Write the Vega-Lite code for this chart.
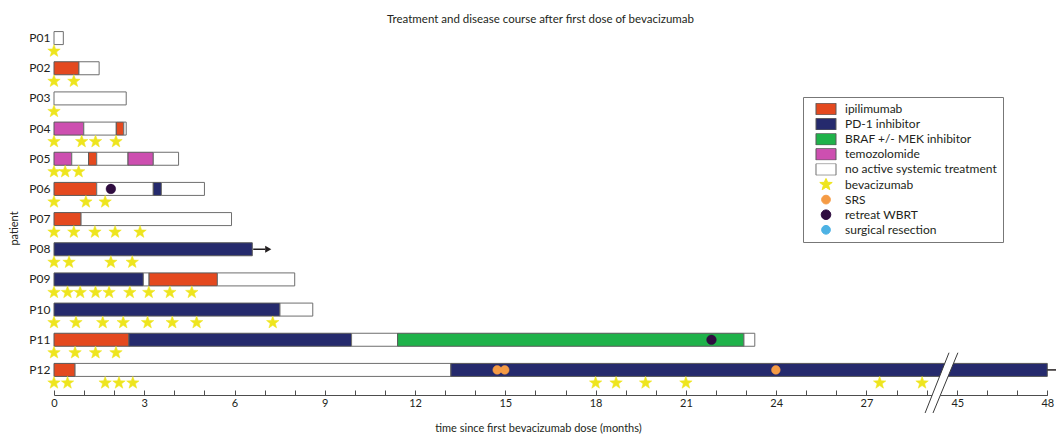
{
  "$schema": "https://vega.github.io/schema/vega-lite/v6.json",
  "autosize": "none",
  "width": 993,
  "height": 362,
  "padding": {"left": 54, "top": 23, "right": 9, "bottom": 52},
  "background": "white",
  "title": {
    "text": "Treatment and disease course after first dose of bevacizumab",
    "font": "Lato",
    "fontSize": 11.5,
    "fontWeight": "normal",
    "color": "#231f20",
    "anchor": "middle",
    "frame": "group",
    "baseline": "alphabetic",
    "offset": 3,
    "dx": -10,
    "dy": 14
  },
  "datasets": {
    "segments": [
      {"patient": "P01", "start": 0, "end": 0.31, "category": "no active systemic treatment"},
      {"patient": "P02", "start": 0, "end": 0.83, "category": "ipilimumab"},
      {"patient": "P02", "start": 0.83, "end": 1.5, "category": "no active systemic treatment"},
      {"patient": "P03", "start": 0, "end": 2.4, "category": "no active systemic treatment"},
      {"patient": "P04", "start": 0, "end": 0.99, "category": "temozolomide"},
      {"patient": "P04", "start": 0.99, "end": 2.07, "category": "no active systemic treatment"},
      {"patient": "P04", "start": 2.07, "end": 2.32, "category": "ipilimumab"},
      {"patient": "P04", "start": 2.32, "end": 2.4, "category": "no active systemic treatment"},
      {"patient": "P05", "start": 0, "end": 0.59, "category": "temozolomide"},
      {"patient": "P05", "start": 0.59, "end": 1.15, "category": "no active systemic treatment"},
      {"patient": "P05", "start": 1.15, "end": 1.42, "category": "ipilimumab"},
      {"patient": "P05", "start": 1.42, "end": 2.46, "category": "no active systemic treatment"},
      {"patient": "P05", "start": 2.46, "end": 3.3, "category": "temozolomide"},
      {"patient": "P05", "start": 3.3, "end": 4.14, "category": "no active systemic treatment"},
      {"patient": "P06", "start": 0, "end": 1.42, "category": "ipilimumab"},
      {"patient": "P06", "start": 1.42, "end": 3.3, "category": "no active systemic treatment"},
      {"patient": "P06", "start": 3.3, "end": 3.57, "category": "PD-1 inhibitor"},
      {"patient": "P06", "start": 3.57, "end": 5.0, "category": "no active systemic treatment"},
      {"patient": "P07", "start": 0, "end": 0.9, "category": "ipilimumab"},
      {"patient": "P07", "start": 0.9, "end": 5.9, "category": "no active systemic treatment"},
      {"patient": "P08", "start": 0, "end": 6.59, "category": "PD-1 inhibitor"},
      {"patient": "P09", "start": 0, "end": 2.97, "category": "PD-1 inhibitor"},
      {"patient": "P09", "start": 2.97, "end": 3.16, "category": "no active systemic treatment"},
      {"patient": "P09", "start": 3.16, "end": 5.43, "category": "ipilimumab"},
      {"patient": "P09", "start": 5.43, "end": 8.0, "category": "no active systemic treatment"},
      {"patient": "P10", "start": 0, "end": 7.51, "category": "PD-1 inhibitor"},
      {"patient": "P10", "start": 7.51, "end": 8.6, "category": "no active systemic treatment"},
      {"patient": "P11", "start": 0, "end": 2.49, "category": "ipilimumab"},
      {"patient": "P11", "start": 2.49, "end": 9.89, "category": "PD-1 inhibitor"},
      {"patient": "P11", "start": 9.89, "end": 11.42, "category": "no active systemic treatment"},
      {"patient": "P11", "start": 11.42, "end": 22.93, "category": "BRAF +/- MEK inhibitor"},
      {"patient": "P11", "start": 22.93, "end": 23.29, "category": "no active systemic treatment"},
      {"patient": "P12", "start": 0, "end": 0.7, "category": "ipilimumab"},
      {"patient": "P12", "start": 0.7, "end": 13.19, "category": "no active systemic treatment"},
      {"patient": "P12", "start": 13.19, "end": 48, "category": "PD-1 inhibitor"}
    ],
    "doses": [
      {"patient": "P01", "time": 0, "category": "bevacizumab"},
      {"patient": "P02", "time": 0, "category": "bevacizumab"},
      {"patient": "P02", "time": 0.66, "category": "bevacizumab"},
      {"patient": "P03", "time": 0, "category": "bevacizumab"},
      {"patient": "P04", "time": 0, "category": "bevacizumab"},
      {"patient": "P04", "time": 0.92, "category": "bevacizumab"},
      {"patient": "P04", "time": 1.38, "category": "bevacizumab"},
      {"patient": "P04", "time": 2.06, "category": "bevacizumab"},
      {"patient": "P05", "time": 0, "category": "bevacizumab"},
      {"patient": "P05", "time": 0.37, "category": "bevacizumab"},
      {"patient": "P05", "time": 0.82, "category": "bevacizumab"},
      {"patient": "P06", "time": 0, "category": "bevacizumab"},
      {"patient": "P06", "time": 1.06, "category": "bevacizumab"},
      {"patient": "P06", "time": 1.7, "category": "bevacizumab"},
      {"patient": "P07", "time": 0, "category": "bevacizumab"},
      {"patient": "P07", "time": 0.66, "category": "bevacizumab"},
      {"patient": "P07", "time": 1.36, "category": "bevacizumab"},
      {"patient": "P07", "time": 2.03, "category": "bevacizumab"},
      {"patient": "P07", "time": 2.86, "category": "bevacizumab"},
      {"patient": "P08", "time": 0, "category": "bevacizumab"},
      {"patient": "P08", "time": 0.5, "category": "bevacizumab"},
      {"patient": "P08", "time": 1.89, "category": "bevacizumab"},
      {"patient": "P08", "time": 2.6, "category": "bevacizumab"},
      {"patient": "P09", "time": 0, "category": "bevacizumab"},
      {"patient": "P09", "time": 0.45, "category": "bevacizumab"},
      {"patient": "P09", "time": 0.87, "category": "bevacizumab"},
      {"patient": "P09", "time": 1.38, "category": "bevacizumab"},
      {"patient": "P09", "time": 1.83, "category": "bevacizumab"},
      {"patient": "P09", "time": 2.52, "category": "bevacizumab"},
      {"patient": "P09", "time": 3.15, "category": "bevacizumab"},
      {"patient": "P09", "time": 3.85, "category": "bevacizumab"},
      {"patient": "P09", "time": 4.58, "category": "bevacizumab"},
      {"patient": "P10", "time": 0, "category": "bevacizumab"},
      {"patient": "P10", "time": 0.73, "category": "bevacizumab"},
      {"patient": "P10", "time": 1.62, "category": "bevacizumab"},
      {"patient": "P10", "time": 2.3, "category": "bevacizumab"},
      {"patient": "P10", "time": 3.11, "category": "bevacizumab"},
      {"patient": "P10", "time": 3.93, "category": "bevacizumab"},
      {"patient": "P10", "time": 4.74, "category": "bevacizumab"},
      {"patient": "P10", "time": 7.27, "category": "bevacizumab"},
      {"patient": "P11", "time": 0, "category": "bevacizumab"},
      {"patient": "P11", "time": 0.7, "category": "bevacizumab"},
      {"patient": "P11", "time": 1.38, "category": "bevacizumab"},
      {"patient": "P11", "time": 2.06, "category": "bevacizumab"},
      {"patient": "P12", "time": 0, "category": "bevacizumab"},
      {"patient": "P12", "time": 0.45, "category": "bevacizumab"},
      {"patient": "P12", "time": 1.7, "category": "bevacizumab"},
      {"patient": "P12", "time": 2.16, "category": "bevacizumab"},
      {"patient": "P12", "time": 2.62, "category": "bevacizumab"},
      {"patient": "P12", "time": 18.0, "category": "bevacizumab"},
      {"patient": "P12", "time": 18.68, "category": "bevacizumab"},
      {"patient": "P12", "time": 19.66, "category": "bevacizumab"},
      {"patient": "P12", "time": 21.0, "category": "bevacizumab"},
      {"patient": "P12", "time": 27.44, "category": "bevacizumab"},
      {"patient": "P12", "time": 28.85, "category": "bevacizumab"}
    ],
    "procedures": [
      {"patient": "P06", "time": 1.89, "category": "retreat WBRT"},
      {"patient": "P11", "time": 21.85, "category": "retreat WBRT"},
      {"patient": "P12", "time": 14.73, "category": "SRS"},
      {"patient": "P12", "time": 14.98, "category": "SRS"},
      {"patient": "P12", "time": 23.99, "category": "SRS"}
    ],
    "ongoing": [
      {"patient": "P08", "from": 6.62, "to": 7.02, "head": 7.12},
      {"patient": "P12", "from": 48, "to": 48.3}
    ],
    "axisbreak": [
      {"level": -0.0773, "left": 28.95, "right": 32.34},
      {"level": 0.0892, "left": 40.67, "right": 45.02}
    ]
  },
  "config": {
    "view": {"stroke": null},
    "font": "Lato",
    "legend": {"orient": "none"}
  },
  "resolve": {"scale": {"y": "independent"}, "axis": {"y": "independent"}},
  "layer": [
    {
      "encoding": {
        "y": {
          "field": "patient",
          "type": "nominal",
          "scale": {"type": "band", "paddingInner": 0, "paddingOuter": 0},
          "axis": {
            "title": "patient",
            "titleFont": "Lato",
            "titleFontSize": 11,
            "titleFontWeight": "normal",
            "titleColor": "#231f20",
            "titleX": -40,
            "titleY": 205,
            "titleAngle": -90,
            "titleAlign": "center",
            "titleBaseline": "middle",
            "labelFont": "Lato",
            "labelFontSize": 12,
            "labelColor": "#231f20",
            "labelPadding": 4,
            "ticks": false,
            "domain": false
          }
        }
      },
      "layer": [
        {
          "data": {"name": "segments"},
          "mark": {"type": "bar", "height": 13, "strokeWidth": 1},
          "encoding": {
            "x": {
              "field": "start",
              "type": "quantitative",
              "scale": {"domain": [0, 29, 45, 48], "range": [0, 872.6, 903.3, 993.3], "nice": false, "zero": false},
              "axis": {"orient": "bottom", "title": "time since first bevacizumab dose (months)", "titleFont": "Lato", "titleFontSize": 11, "titleFontWeight": "normal", "titleColor": "#231f20", "titleX": 484, "titleY": 33, "titleAlign": "center", "titleBaseline": "middle", "values": [0,1,2,3,4,5,6,7,8,9,10,11,12,13,14,15,16,17,18,19,20,21,22,23,24,25,26,27,28,29,45,46,47,48], "labelExpr": "datum.value % 3 === 0 ? datum.label : ''", "labelFlush": false, "labelOverlap": false, "labelFont": "Lato", "labelFontSize": 11, "labelColor": "#231f20", "tickSize": -5, "labelPadding": 7, "tickColor": "#4d4d4d", "domainColor": "#4d4d4d", "offset": 10, "grid": false}
            },
            "x2": {"field": "end"},
            "color": {
              "field": "category",
              "type": "nominal",
              "scale": {
                "domain": ["ipilimumab", "PD-1 inhibitor", "BRAF +/- MEK inhibitor", "temozolomide", "no active systemic treatment", "bevacizumab", "SRS", "retreat WBRT", "surgical resection"],
                "range": ["#e4491f", "#252a6d", "#1fb24a", "#cd4fb0", "#ffffff", "#eee51e", "#f59b45", "#2f0d40", "#4db2e4"]
              },
              "legend": {
                "title": null,
                "orient": "none",
                "legendX": 749,
                "legendY": 74,
                "padding": 6,
                "symbolOffset": 10.5,
                "labelOffset": 12.5,
                "rowPadding": 3.1,
                "clipHeight": 12,
                "symbolSize": 144,
                "labelFont": "Lato",
                "labelFontSize": 12,
                "labelColor": "#231f20",
                "strokeColor": "#777777",
                "fillColor": "#ffffff",
                "symbolOpacity": 1,
                "symbolStrokeWidth": 1
              }
            },
            "stroke": {
              "field": "category",
              "type": "nominal",
              "scale": {
                "domain": ["ipilimumab", "PD-1 inhibitor", "BRAF +/- MEK inhibitor", "temozolomide", "no active systemic treatment", "bevacizumab", "SRS", "retreat WBRT", "surgical resection"],
                "range": ["#5a5a5a", "#5a5a5a", "#5a5a5a", "#5a5a5a", "#6e6e6e", "#eee51e", "#f59b45", "#2f0d40", "#4db2e4"]
              }
            }
          }
        },
        {
          "data": {"name": "ongoing"},
          "mark": {"type": "rule", "color": "#231f20", "strokeWidth": 1.5},
          "encoding": {
            "x": {"field": "from", "type": "quantitative", "axis": {"orient": "bottom", "title": "time since first bevacizumab dose (months)", "titleFont": "Lato", "titleFontSize": 11, "titleFontWeight": "normal", "titleColor": "#231f20", "titleX": 484, "titleY": 33, "titleAlign": "center", "titleBaseline": "middle", "values": [0,1,2,3,4,5,6,7,8,9,10,11,12,13,14,15,16,17,18,19,20,21,22,23,24,25,26,27,28,29,45,46,47,48], "labelExpr": "datum.value % 3 === 0 ? datum.label : ''", "labelFlush": false, "labelOverlap": false, "labelFont": "Lato", "labelFontSize": 11, "labelColor": "#231f20", "tickSize": -5, "labelPadding": 7, "tickColor": "#4d4d4d", "domainColor": "#4d4d4d", "offset": 10, "grid": false}},
            "x2": {"field": "to"}
          }
        },
        {
          "data": {"name": "ongoing"},
          "mark": {"type": "point", "shape": "triangle-right", "filled": true, "color": "#231f20", "opacity": 1, "size": 50},
          "encoding": {
            "x": {"field": "head", "type": "quantitative", "axis": {"orient": "bottom", "title": "time since first bevacizumab dose (months)", "titleFont": "Lato", "titleFontSize": 11, "titleFontWeight": "normal", "titleColor": "#231f20", "titleX": 484, "titleY": 33, "titleAlign": "center", "titleBaseline": "middle", "values": [0,1,2,3,4,5,6,7,8,9,10,11,12,13,14,15,16,17,18,19,20,21,22,23,24,25,26,27,28,29,45,46,47,48], "labelExpr": "datum.value % 3 === 0 ? datum.label : ''", "labelFlush": false, "labelOverlap": false, "labelFont": "Lato", "labelFontSize": 11, "labelColor": "#231f20", "tickSize": -5, "labelPadding": 7, "tickColor": "#4d4d4d", "domainColor": "#4d4d4d", "offset": 10, "grid": false}}
          }
        },
        {
          "data": {"name": "doses"},
          "mark": {"type": "point", "filled": true, "opacity": 1, "yOffset": 13, "strokeWidth": 0.5, "size": 144},
          "encoding": {
            "x": {"field": "time", "type": "quantitative", "axis": {"orient": "bottom", "title": "time since first bevacizumab dose (months)", "titleFont": "Lato", "titleFontSize": 11, "titleFontWeight": "normal", "titleColor": "#231f20", "titleX": 484, "titleY": 33, "titleAlign": "center", "titleBaseline": "middle", "values": [0,1,2,3,4,5,6,7,8,9,10,11,12,13,14,15,16,17,18,19,20,21,22,23,24,25,26,27,28,29,45,46,47,48], "labelExpr": "datum.value % 3 === 0 ? datum.label : ''", "labelFlush": false, "labelOverlap": false, "labelFont": "Lato", "labelFontSize": 11, "labelColor": "#231f20", "tickSize": -5, "labelPadding": 7, "tickColor": "#4d4d4d", "domainColor": "#4d4d4d", "offset": 10, "grid": false}},
            "color": {"field": "category", "type": "nominal"},
            "stroke": {"field": "category", "type": "nominal"},
            "shape": {
              "field": "category",
              "type": "nominal",
              "scale": {
                "domain": ["ipilimumab", "PD-1 inhibitor", "BRAF +/- MEK inhibitor", "temozolomide", "no active systemic treatment", "bevacizumab", "SRS", "retreat WBRT", "surgical resection"],
                "range": [
                  "M-1.667,-0.967H1.667V0.967H-1.667Z",
                  "M-1.667,-0.967H1.667V0.967H-1.667Z",
                  "M-1.667,-0.967H1.667V0.967H-1.667Z",
                  "M-1.667,-0.967H1.667V0.967H-1.667Z",
                  "M-1.667,-0.967H1.667V0.967H-1.667Z",
                  "M0,-1.09L0.267,-0.366L1.037,-0.337L0.431,0.139L0.641,0.882L0,0.45L-0.641,0.882L-0.431,0.139L-1.037,-0.337L-0.267,-0.366Z",
                  "M0.73,0A0.73,0.73 0 1,1 -0.73,0A0.73,0.73 0 1,1 0.73,0Z",
                  "M0.8,0A0.8,0.8 0 1,1 -0.8,0A0.8,0.8 0 1,1 0.8,0Z",
                  "M0.73,0A0.73,0.73 0 1,1 -0.73,0A0.73,0.73 0 1,1 0.73,0Z"
                ]
              }
            }
          }
        },
        {
          "data": {"name": "procedures"},
          "mark": {"type": "point", "filled": true, "opacity": 1, "strokeWidth": 0.5, "size": 144},
          "encoding": {
            "x": {"field": "time", "type": "quantitative", "axis": {"orient": "bottom", "title": "time since first bevacizumab dose (months)", "titleFont": "Lato", "titleFontSize": 11, "titleFontWeight": "normal", "titleColor": "#231f20", "titleX": 484, "titleY": 33, "titleAlign": "center", "titleBaseline": "middle", "values": [0,1,2,3,4,5,6,7,8,9,10,11,12,13,14,15,16,17,18,19,20,21,22,23,24,25,26,27,28,29,45,46,47,48], "labelExpr": "datum.value % 3 === 0 ? datum.label : ''", "labelFlush": false, "labelOverlap": false, "labelFont": "Lato", "labelFontSize": 11, "labelColor": "#231f20", "tickSize": -5, "labelPadding": 7, "tickColor": "#4d4d4d", "domainColor": "#4d4d4d", "offset": 10, "grid": false}},
            "color": {"field": "category", "type": "nominal"},
            "stroke": {"field": "category", "type": "nominal"},
            "shape": {"field": "category", "type": "nominal"}
          }
        }
      ]
    },
    {
      "data": {"name": "axisbreak"},
      "encoding": {
        "y": {"field": "level", "type": "quantitative", "scale": {"domain": [0, 1], "nice": false, "zero": false}, "axis": null}
      },
      "layer": [
        {
          "mark": {"type": "area", "orient": "horizontal", "color": "#ffffff", "opacity": 1},
          "encoding": {
            "x": {"field": "left", "type": "quantitative", "axis": {"orient": "bottom", "title": "time since first bevacizumab dose (months)", "titleFont": "Lato", "titleFontSize": 11, "titleFontWeight": "normal", "titleColor": "#231f20", "titleX": 484, "titleY": 33, "titleAlign": "center", "titleBaseline": "middle", "values": [0,1,2,3,4,5,6,7,8,9,10,11,12,13,14,15,16,17,18,19,20,21,22,23,24,25,26,27,28,29,45,46,47,48], "labelExpr": "datum.value % 3 === 0 ? datum.label : ''", "labelFlush": false, "labelOverlap": false, "labelFont": "Lato", "labelFontSize": 11, "labelColor": "#231f20", "tickSize": -5, "labelPadding": 7, "tickColor": "#4d4d4d", "domainColor": "#4d4d4d", "offset": 10, "grid": false}},
            "x2": {"field": "right"}
          }
        },
        {
          "mark": {"type": "line", "color": "#3a3a3a", "strokeWidth": 1},
          "encoding": {
            "x": {"field": "left", "type": "quantitative", "axis": {"orient": "bottom", "title": "time since first bevacizumab dose (months)", "titleFont": "Lato", "titleFontSize": 11, "titleFontWeight": "normal", "titleColor": "#231f20", "titleX": 484, "titleY": 33, "titleAlign": "center", "titleBaseline": "middle", "values": [0,1,2,3,4,5,6,7,8,9,10,11,12,13,14,15,16,17,18,19,20,21,22,23,24,25,26,27,28,29,45,46,47,48], "labelExpr": "datum.value % 3 === 0 ? datum.label : ''", "labelFlush": false, "labelOverlap": false, "labelFont": "Lato", "labelFontSize": 11, "labelColor": "#231f20", "tickSize": -5, "labelPadding": 7, "tickColor": "#4d4d4d", "domainColor": "#4d4d4d", "offset": 10, "grid": false}}
          }
        },
        {
          "mark": {"type": "line", "color": "#3a3a3a", "strokeWidth": 1},
          "encoding": {
            "x": {"field": "right", "type": "quantitative", "axis": {"orient": "bottom", "title": "time since first bevacizumab dose (months)", "titleFont": "Lato", "titleFontSize": 11, "titleFontWeight": "normal", "titleColor": "#231f20", "titleX": 484, "titleY": 33, "titleAlign": "center", "titleBaseline": "middle", "values": [0,1,2,3,4,5,6,7,8,9,10,11,12,13,14,15,16,17,18,19,20,21,22,23,24,25,26,27,28,29,45,46,47,48], "labelExpr": "datum.value % 3 === 0 ? datum.label : ''", "labelFlush": false, "labelOverlap": false, "labelFont": "Lato", "labelFontSize": 11, "labelColor": "#231f20", "tickSize": -5, "labelPadding": 7, "tickColor": "#4d4d4d", "domainColor": "#4d4d4d", "offset": 10, "grid": false}}
          }
        }
      ]
    }
  ]
}
